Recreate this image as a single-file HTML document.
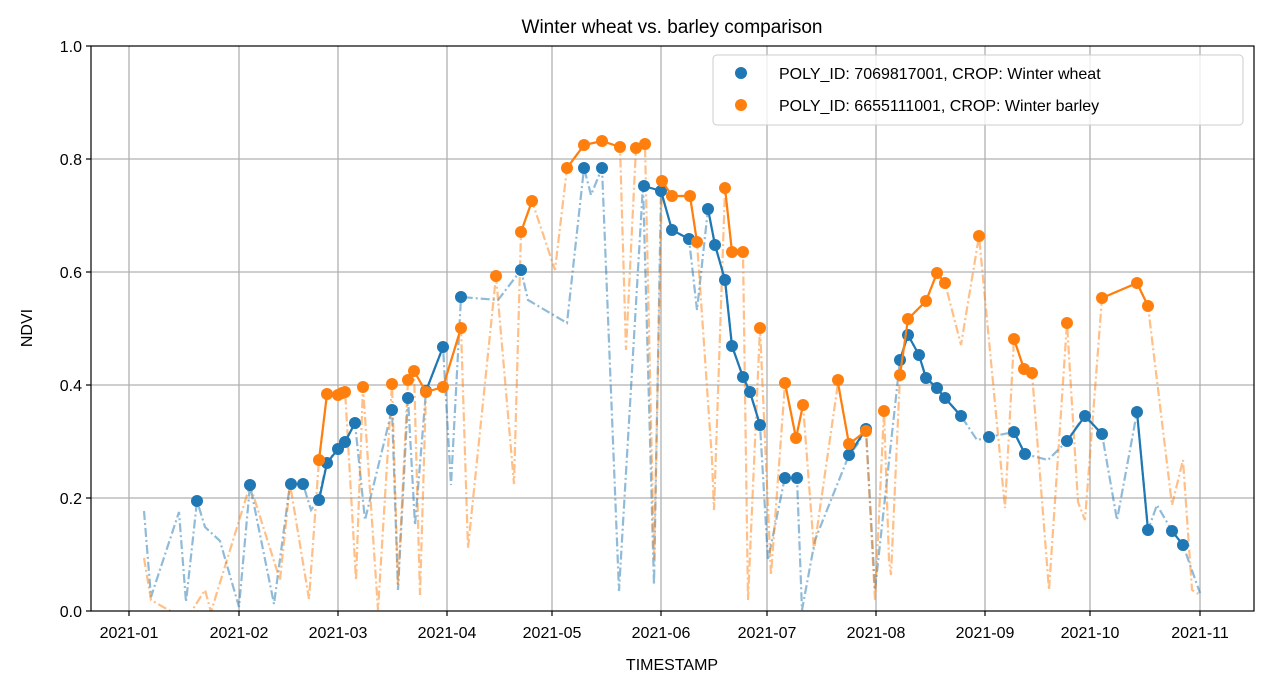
<!DOCTYPE html>
<html><head><meta charset="utf-8"><style>
body{margin:0;background:#fff}
svg{font-family:"Liberation Sans","DejaVu Sans",sans-serif}
</style></head><body>
<svg width="1268" height="690" viewBox="0 0 1268 690" xmlns="http://www.w3.org/2000/svg">
<rect width="1268" height="690" fill="#fff"/>
<g stroke="#b0b0b0" stroke-width="1.3">
<line x1="129" y1="46" x2="129" y2="611"/><line x1="239" y1="46" x2="239" y2="611"/><line x1="338" y1="46" x2="338" y2="611"/><line x1="447" y1="46" x2="447" y2="611"/><line x1="552" y1="46" x2="552" y2="611"/><line x1="661" y1="46" x2="661" y2="611"/><line x1="767" y1="46" x2="767" y2="611"/><line x1="876" y1="46" x2="876" y2="611"/><line x1="985" y1="46" x2="985" y2="611"/><line x1="1090" y1="46" x2="1090" y2="611"/><line x1="1200" y1="46" x2="1200" y2="611"/>
<line x1="91" y1="498" x2="1254" y2="498"/><line x1="91" y1="385" x2="1254" y2="385"/><line x1="91" y1="272" x2="1254" y2="272"/><line x1="91" y1="159" x2="1254" y2="159"/>
</g>
<svg x="91" y="46" width="1163" height="565" viewBox="91 46 1163 565" overflow="hidden">
<polyline fill="none" stroke="#1f77b4" stroke-opacity="0.5" stroke-width="2.2" stroke-dasharray="9,3,2,3" points="144,511 151,597 179,512 186,602 197,501 205,527 220,541 239,607 250,485 274,604 290,484 303,484 311,510 318,500 327,463 337,449 345,442 355,423 365,520 392,410 398,590 408,398 415,525 426,391 443,347 451,485 461,297 498,300 521,270 528,300 567,323 584,168 591,195 602,168 619,591 643,185 654,585 661,191 672,230 689,239 697,310 708,209 715,245 725,280 732,346 743,377 750,392 760,425 768,560 785,477 797,478 802,610 815,540 849,455 857,445 866,429 875,590 900,360 908,335 919,355 926,378 937,388 945,398 961,416 977,440 989,437 1014,432 1025,454 1048,460 1067,441 1084,416 1102,434 1117,520 1137,412 1148,530 1157,505 1172,531 1183,545 1200,593"/>
<polyline fill="none" stroke="#ff7f0e" stroke-opacity="0.5" stroke-width="2.2" stroke-dasharray="9,3,2,3" points="144,558 151,600 186,620 205,590 211,612 250,485 280,580 290,484 309,599 319,460 327,395 340,393 345,390 356,580 363,387 378,610 392,384 398,585 408,380 414,371 420,595 426,392 443,387 461,328 468,548 496,276 514,484 521,232 532,201 555,270 567,168 584,145 602,141 620,147 626,350 636,148 645,144 654,560 662,181 672,196 690,196 697,242 712,460 714,510 725,188 732,252 743,252 748,600 760,328 771,575 785,383 796,438 803,405 814,550 838,383 849,444 866,431 875,600 884,411 889,560 891,575 900,375 908,319 926,301 937,273 945,283 961,345 979,236 1005,508 1014,339 1024,369 1032,373 1049,590 1067,323 1078,502 1085,520 1102,298 1137,283 1148,306 1172,505 1183,460 1192,590 1200,595"/>
</svg>
<g fill="none" stroke="#1f77b4" stroke-width="2.2">
<polyline points="319,500 327,463 338,449 345,442 355,423"/>
<polyline points="426,391 443,347"/>
<polyline points="644,186 661,191 672,230 689,239"/>
<polyline points="708,209 715,245 725,280 732,346 743,377 750,392 760,425"/>
<polyline points="849,455 866,429"/>
<polyline points="900,360 908,335 919,355 926,378 937,388 945,398 961,416"/>
<polyline points="1014,432 1025,454"/>
<polyline points="1067,441 1085,416 1102,434"/>
<polyline points="1137,412 1148,530"/>
<polyline points="1172,531 1183,545"/>
</g>
<g fill="#1f77b4">
<circle cx="197" cy="501" r="6"/><circle cx="250" cy="485" r="6"/><circle cx="291" cy="484" r="6"/><circle cx="303" cy="484" r="6"/><circle cx="319" cy="500" r="6"/><circle cx="327" cy="463" r="6"/><circle cx="338" cy="449" r="6"/><circle cx="345" cy="442" r="6"/><circle cx="355" cy="423" r="6"/><circle cx="392" cy="410" r="6"/><circle cx="408" cy="398" r="6"/><circle cx="426" cy="391" r="6"/><circle cx="443" cy="347" r="6"/><circle cx="461" cy="297" r="6"/><circle cx="521" cy="270" r="6"/><circle cx="584" cy="168" r="6"/><circle cx="602" cy="168" r="6"/><circle cx="644" cy="186" r="6"/><circle cx="661" cy="191" r="6"/><circle cx="672" cy="230" r="6"/><circle cx="689" cy="239" r="6"/><circle cx="708" cy="209" r="6"/><circle cx="715" cy="245" r="6"/><circle cx="725" cy="280" r="6"/><circle cx="732" cy="346" r="6"/><circle cx="743" cy="377" r="6"/><circle cx="750" cy="392" r="6"/><circle cx="760" cy="425" r="6"/><circle cx="785" cy="478" r="6"/><circle cx="797" cy="478" r="6"/><circle cx="849" cy="455" r="6"/><circle cx="866" cy="429" r="6"/><circle cx="900" cy="360" r="6"/><circle cx="908" cy="335" r="6"/><circle cx="919" cy="355" r="6"/><circle cx="926" cy="378" r="6"/><circle cx="937" cy="388" r="6"/><circle cx="945" cy="398" r="6"/><circle cx="961" cy="416" r="6"/><circle cx="989" cy="437" r="6"/><circle cx="1014" cy="432" r="6"/><circle cx="1025" cy="454" r="6"/><circle cx="1067" cy="441" r="6"/><circle cx="1085" cy="416" r="6"/><circle cx="1102" cy="434" r="6"/><circle cx="1137" cy="412" r="6"/><circle cx="1148" cy="530" r="6"/><circle cx="1172" cy="531" r="6"/><circle cx="1183" cy="545" r="6"/>
</g>
<g fill="none" stroke="#ff7f0e" stroke-width="2.2">
<polyline points="319,460 327,394 338,395 342,393 345,392"/>
<polyline points="408,380 414,371 426,392 443,387 461,328"/>
<polyline points="521,232 532,201"/>
<polyline points="567,168 584,145 602,141 620,147"/>
<polyline points="636,148 645,144"/>
<polyline points="662,181 672,196 690,196 697,242"/>
<polyline points="725,188 732,252 743,252"/>
<polyline points="785,383 796,438 803,405"/>
<polyline points="838,383 849,444 866,431"/>
<polyline points="900,375 908,319 926,301 937,273 945,283"/>
<polyline points="1014,339 1024,369 1032,373"/>
<polyline points="1102,298 1137,283 1148,306"/>
</g>
<g fill="#ff7f0e">
<circle cx="319" cy="460" r="6"/><circle cx="327" cy="394" r="6"/><circle cx="338" cy="395" r="6"/><circle cx="342" cy="393" r="6"/><circle cx="345" cy="392" r="6"/><circle cx="363" cy="387" r="6"/><circle cx="392" cy="384" r="6"/><circle cx="408" cy="380" r="6"/><circle cx="414" cy="371" r="6"/><circle cx="426" cy="392" r="6"/><circle cx="443" cy="387" r="6"/><circle cx="461" cy="328" r="6"/><circle cx="496" cy="276" r="6"/><circle cx="521" cy="232" r="6"/><circle cx="532" cy="201" r="6"/><circle cx="567" cy="168" r="6"/><circle cx="584" cy="145" r="6"/><circle cx="602" cy="141" r="6"/><circle cx="620" cy="147" r="6"/><circle cx="636" cy="148" r="6"/><circle cx="645" cy="144" r="6"/><circle cx="662" cy="181" r="6"/><circle cx="672" cy="196" r="6"/><circle cx="690" cy="196" r="6"/><circle cx="697" cy="242" r="6"/><circle cx="725" cy="188" r="6"/><circle cx="732" cy="252" r="6"/><circle cx="743" cy="252" r="6"/><circle cx="760" cy="328" r="6"/><circle cx="785" cy="383" r="6"/><circle cx="796" cy="438" r="6"/><circle cx="803" cy="405" r="6"/><circle cx="838" cy="380" r="6"/><circle cx="849" cy="444" r="6"/><circle cx="866" cy="431" r="6"/><circle cx="884" cy="411" r="6"/><circle cx="900" cy="375" r="6"/><circle cx="908" cy="319" r="6"/><circle cx="926" cy="301" r="6"/><circle cx="937" cy="273" r="6"/><circle cx="945" cy="283" r="6"/><circle cx="979" cy="236" r="6"/><circle cx="1014" cy="339" r="6"/><circle cx="1024" cy="369" r="6"/><circle cx="1032" cy="373" r="6"/><circle cx="1067" cy="323" r="6"/><circle cx="1102" cy="298" r="6"/><circle cx="1137" cy="283" r="6"/><circle cx="1148" cy="306" r="6"/>
</g>
<rect x="91" y="46" width="1163" height="565" fill="none" stroke="#000" stroke-width="1.2"/>
<g stroke="#000" stroke-width="1.2">
<line x1="129" y1="611" x2="129" y2="616"/><line x1="239" y1="611" x2="239" y2="616"/><line x1="338" y1="611" x2="338" y2="616"/><line x1="447" y1="611" x2="447" y2="616"/><line x1="552" y1="611" x2="552" y2="616"/><line x1="661" y1="611" x2="661" y2="616"/><line x1="767" y1="611" x2="767" y2="616"/><line x1="876" y1="611" x2="876" y2="616"/><line x1="985" y1="611" x2="985" y2="616"/><line x1="1090" y1="611" x2="1090" y2="616"/><line x1="1200" y1="611" x2="1200" y2="616"/>
<line x1="86" y1="611" x2="91" y2="611"/><line x1="86" y1="498" x2="91" y2="498"/><line x1="86" y1="385" x2="91" y2="385"/><line x1="86" y1="272" x2="91" y2="272"/><line x1="86" y1="159" x2="91" y2="159"/><line x1="86" y1="46" x2="91" y2="46"/>
</g>
<g font-size="16" fill="#000" text-anchor="middle">
<text x="129" y="638">2021-01</text><text x="239" y="638">2021-02</text><text x="338" y="638">2021-03</text><text x="447" y="638">2021-04</text><text x="552" y="638">2021-05</text><text x="661" y="638">2021-06</text><text x="767" y="638">2021-07</text><text x="876" y="638">2021-08</text><text x="985" y="638">2021-09</text><text x="1090" y="638">2021-10</text><text x="1200" y="638">2021-11</text>
</g>
<g font-size="16" fill="#000" text-anchor="end">
<text x="82" y="617">0.0</text><text x="82" y="504">0.2</text><text x="82" y="391">0.4</text><text x="82" y="278">0.6</text><text x="82" y="165">0.8</text><text x="82" y="52">1.0</text>
</g>
<text x="672" y="670" font-size="16" text-anchor="middle">TIMESTAMP</text>
<text x="32" y="328" font-size="16" text-anchor="middle" transform="rotate(-90 32 328)">NDVI</text>
<text x="672" y="33" font-size="19" text-anchor="middle">Winter wheat vs. barley comparison</text>
<rect x="713" y="55" width="530" height="70" rx="4" fill="#fff" fill-opacity="0.8" stroke="#ccc"/>
<circle cx="741" cy="73" r="6" fill="#1f77b4"/><circle cx="741" cy="105" r="6" fill="#ff7f0e"/>
<text x="779" y="79" font-size="16">POLY_ID: 7069817001, CROP: Winter wheat</text>
<text x="779" y="111" font-size="16">POLY_ID: 6655111001, CROP: Winter barley</text>
</svg>
</body></html>
